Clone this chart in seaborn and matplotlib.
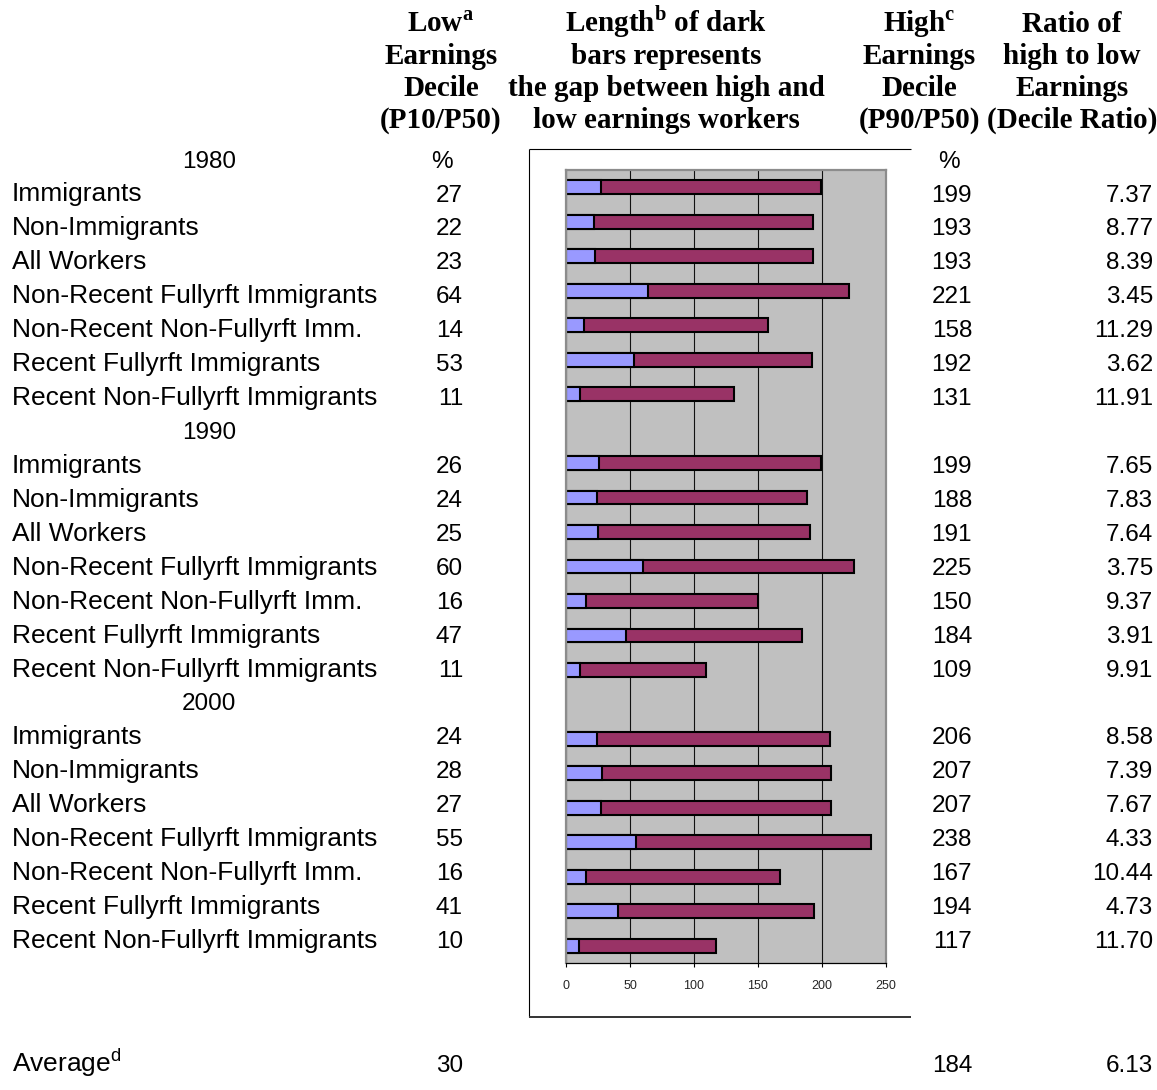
import matplotlib
matplotlib.use("Agg")
import matplotlib.pyplot as plt
import pandas as pd
import seaborn as sns

# ---- data -------------------------------------------------------------
years = ["1980", "1990", "2000"]
groups = [
    "Immigrants",
    "Non-Immigrants",
    "All Workers",
    "Non-Recent Fullyrft Immigrants",
    "Non-Recent Non-Fullyrft Imm.",
    "Recent Fullyrft Immigrants",
    "Recent Non-Fullyrft Immigrants",
]
low_1980 = [27, 22, 23, 64, 14, 53, 11]
high_1980 = [199, 193, 193, 221, 158, 192, 131]
ratio_1980 = [7.37, 8.77, 8.39, 3.45, 11.29, 3.62, 11.91]
low_1990 = [26, 24, 25, 60, 16, 47, 11]
high_1990 = [199, 188, 191, 225, 150, 184, 109]
ratio_1990 = [7.65, 7.83, 7.64, 3.75, 9.37, 3.91, 9.91]
low_2000 = [24, 28, 27, 55, 16, 41, 10]
high_2000 = [206, 207, 207, 238, 167, 194, 117]
ratio_2000 = [8.58, 7.39, 7.67, 4.33, 10.44, 4.73, 11.70]
avg_low, avg_high, avg_ratio = 30, 184, 6.13
x_ticks = [0, 50, 100, 150, 200, 250]

lows = [low_1980, low_1990, low_2000]
highs = [high_1980, high_1990, high_2000]
ratios = [ratio_1980, ratio_1990, ratio_2000]

# ---- table frame -------------------------------------------------------
records = []
order = []
for yi, yr in enumerate(years):
    if yi > 0:
        order.append(yr)  # empty slot for the year sub-heading
    for g, lo, hi in zip(groups, lows[yi], highs[yi]):
        key = f"{yr}|{g}"
        order.append(key)
        records.append({"key": key, "low": lo, "high": hi})
df = pd.DataFrame(records)

BLUE = "#9999FF"
MAROON = "#993366"
W, H, DPI = 1157, 1090, 100

sns.set_style("white")
plt.rcParams["font.family"] = ["Liberation Sans", "DejaVu Sans"]
plt.rcParams["mathtext.fontset"] = "custom"
plt.rcParams["mathtext.rm"] = "Liberation Serif:bold"
plt.rcParams["mathtext.sf"] = "Liberation Sans"

fig = plt.figure(figsize=(W / DPI, H / DPI), dpi=DPI)

# full-page layer in pixel units for the table text
ov = fig.add_axes([0, 0, 1, 1])
ov.set_xlim(0, W)
ov.set_ylim(H, 0)
ov.axis("off")

# bar panel
x0, x1, ytop, ybot = 566, 886, 170, 963
ax = fig.add_axes([x0 / W, 1 - ybot / H, (x1 - x0) / W, (ybot - ytop) / H])

common = dict(data=df, y="key", order=order, orient="h", saturation=1,
              width=0.4, edgecolor="black", linewidth=1.5, errorbar=None, ax=ax)
sns.barplot(x="high", color=MAROON, **common)
sns.barplot(x="low", color=BLUE, **common)

ax.set_facecolor("#C0C0C0")
ax.set_xlim(0, 250)
ax.set_ylim(len(order) - 0.5, -0.5)
ax.set_xticks(x_ticks)
ax.set_xticklabels([str(t) for t in x_ticks])
ax.set_yticks([])
ax.set_xlabel("")
ax.set_ylabel("")
ax.xaxis.grid(True, color="#111111", linewidth=0.8)
ax.yaxis.grid(False)
ax.set_axisbelow(True)
ax.tick_params(axis="x", direction="out", length=3, width=0.8, color="black",
               labelsize=9, pad=9, bottom=True)
for side in ("left", "top", "right"):
    ax.spines[side].set_color("#8C8C8C")
    ax.spines[side].set_linewidth(1.6)
ax.spines["bottom"].set_color("black")
ax.spines["bottom"].set_linewidth(0.9)

# chart frame
ov.plot([529, 529], [149, 1017], color="black", lw=0.8, solid_capstyle="butt")
ov.plot([529, 911], [149, 149], color="black", lw=0.8, solid_capstyle="butt")
ov.plot([529, 911], [1017, 1017], color="#333333", lw=1.4, solid_capstyle="butt")

# column headings
head = dict(family="Liberation Serif", weight="bold", fontsize=21,
            ha="center", va="baseline", color="black")
head_cols = [
    (441, ["Low$^{\\mathrm{a}}$", "Earnings", "Decile", "(P10/P50)"]),
    (666, ["Length$^{\\mathrm{b}}$ of dark", "bars represents",
           "the gap between high and", "low earnings workers"]),
    (919, ["High$^{\\mathrm{c}}$", "Earnings", "Decile", "(P90/P50)"]),
    (1072, ["Ratio of", "high to low", "Earnings", "(Decile Ratio)"]),
]
head_base = [32, 64, 96, 128]
for cx, lines in head_cols:
    for yb, line in zip(head_base, lines):
        ov.text(cx, yb, line, **head)

# table body
label = dict(fontsize=19, va="baseline", color="black")
num = dict(fontsize=17.5, va="baseline", color="black")
row_h = 33.93
def base(k):
    return 201.5 + row_h * k

k = -1
for yi, yr in enumerate(years):
    ov.text(209, base(k), yr, ha="center", **num)
    if yi == 0:
        ov.text(441.5, base(k), "%", ha="center", **num)
        ov.text(938, base(k), "%", ha="left", **num)
    k += 1
    for g, lo, hi, r in zip(groups, lows[yi], highs[yi], ratios[yi]):
        yb = base(k)
        ov.text(12, yb, g, ha="left", **label)
        ov.text(463, yb, f"{lo}", ha="right", **num)
        ov.text(972, yb, f"{hi}", ha="right", **num)
        ov.text(1153, yb, f"{r:.2f}", ha="right", **num)
        k += 1

yb = 1072
ov.text(12, yb, "Average$^{\\mathsf{d}}$", ha="left", **label)
ov.text(463, yb, f"{avg_low}", ha="right", **num)
ov.text(972, yb, f"{avg_high}", ha="right", **num)
ov.text(1153, yb, f"{avg_ratio:.2f}", ha="right", **num)

fig.savefig("out.png", dpi=DPI, facecolor="white")
